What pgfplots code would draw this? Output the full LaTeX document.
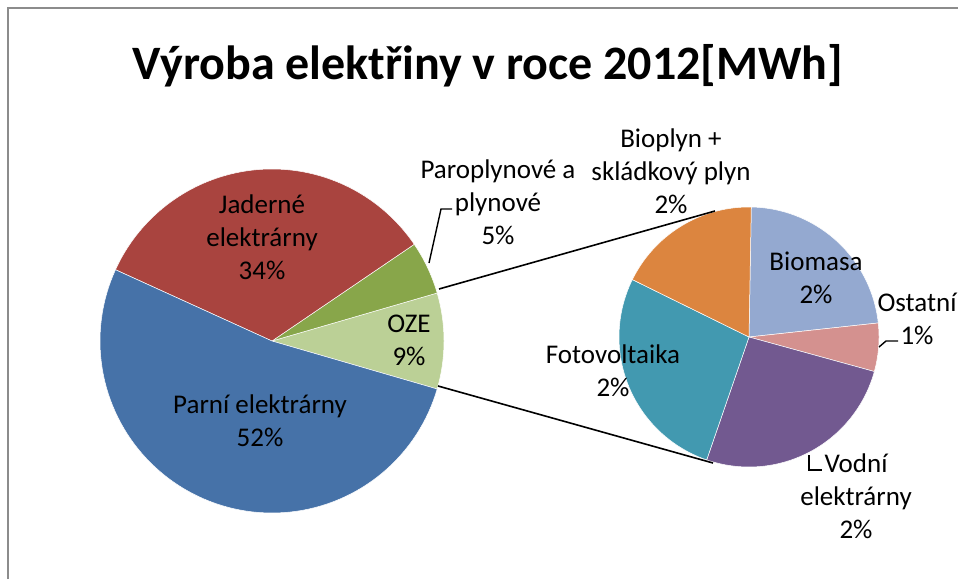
\documentclass[border=0pt]{standalone}
\usepackage{fontspec}
\setmainfont{Carlito}
\usepackage{pgfplots}
\pgfplotsset{compat=1.18}
\usepackage{pgfplotstable}

\definecolor{cParni}{HTML}{4672A8}
\definecolor{cJad}{HTML}{A9443F}
\definecolor{cPar}{HTML}{88A64A}
\definecolor{cOZE}{HTML}{BBD096}
\definecolor{cBioplyn}{HTML}{DC853F}
\definecolor{cBiomasa}{HTML}{94A9D0}
\definecolor{cOst}{HTML}{D4918F}
\definecolor{cVod}{HTML}{725990}
\definecolor{cFoto}{HTML}{4299B0}
\definecolor{frame}{HTML}{8C8C8C}

% shares in % of total production
\pgfplotstableread{
name share
Parni 52.3
Jaderne 33.7
Paroplyn 5
OZE 9
}\maintab
\pgfplotstableread{
name share
Biomasa 2.07
Ostatni 0.54
Vodni 2.34
Fotovoltaika 2.43
Bioplyn 1.62
}\ozetab

\newcommand\getv[3]{\pgfplotstablegetelem{#2}{share}\of#1\let#3\pgfplotsretval}

% slice: cx, cy, r, a1, a2, colour
\newcommand\slice[6]{%
  \addplot[draw=white, line width=0.25pt, fill=#6, domain=#4:#5, samples=90, variable=\t]
    ({#1+#3*cos(\t)},{#2+#3*sin(\t)}) -- (axis cs:#1,#2) -- cycle;
}

\begin{document}%
\begin{tikzpicture}
\getv\maintab{0}\vParni
\getv\maintab{1}\vJad
\getv\maintab{2}\vPar
\getv\maintab{3}\vOZE
\getv\ozetab{0}\vBiomasa
\getv\ozetab{1}\vOst
\getv\ozetab{2}\vVod
\getv\ozetab{3}\vFoto
\getv\ozetab{4}\vBioplyn
% main pie angles (OZE centred on the horizontal)
\pgfmathsetmacro\aA{-1.8*\vOZE}
\pgfmathsetmacro\aB{\aA+3.6*\vOZE}
\pgfmathsetmacro\aC{\aB+3.6*\vPar}
\pgfmathsetmacro\aD{\aC+3.6*\vJad}
\pgfmathsetmacro\aE{\aD+3.6*\vParni}
% secondary pie angles (clockwise from top)
\pgfmathsetmacro\k{360/\vOZE}
\pgfmathsetmacro\bA{89}
\pgfmathsetmacro\bB{\bA-\k*\vBiomasa}
\pgfmathsetmacro\bC{\bB-\k*\vOst}
\pgfmathsetmacro\bD{\bC-\k*\vVod}
\pgfmathsetmacro\bE{\bD-\k*\vFoto}
\pgfmathsetmacro\bF{\bE-\k*\vBioplyn}
\begin{axis}[scale only axis, width=479pt, height=289.5pt,
  xmin=0, xmax=958, ymin=0, ymax=579, hide axis, clip=false]
% frame
\draw[frame, line width=1pt] (axis cs:8,0) -- (axis cs:8,571) -- (axis cs:958,571);
% main pie
\slice{272}{238}{172}{\aA}{\aB}{cOZE}
\slice{272}{238}{172}{\aB}{\aC}{cPar}
\slice{272}{238}{172}{\aC}{\aD}{cJad}
\slice{272}{238}{172}{\aD}{\aE}{cParni}
% secondary pie
\slice{749}{242}{130}{\bB}{\bA}{cBiomasa}
\slice{749}{242}{130}{\bC}{\bB}{cOst}
\slice{749}{242}{130}{\bD}{\bC}{cVod}
\slice{749}{242}{130}{\bE}{\bD}{cFoto}
\slice{749}{242}{130}{\bF}{\bE}{cBioplyn}
% connector lines
\addplot[black, line width=0.8pt] coordinates {(439,290) (715,368)};
\addplot[black, line width=0.8pt] coordinates {(438,193) (713,116)};
% leader lines
\addplot[black, line width=0.7pt] coordinates {(429,316) (441,370) (452,370)};
\addplot[black, line width=0.7pt] coordinates {(879,232) (886,238) (898,238)};
\addplot[black, line width=0.7pt] coordinates {(809,124) (809,109) (822,109)};
% labels
\begin{scope}[every node/.style={align=center, font=\fontsize{13.5}{16.5}\selectfont}]
\node at (axis cs:262,342) {Jaderné\\elektrárny\\34\%};
\node at (axis cs:260,158) {Parní elektrárny\\52\%};
\node at (axis cs:498,377) {Paroplynové a\\plynové\\5\%};
\node at (axis cs:409,239) {OZE\\9\%};
\node at (axis cs:671,408) {Bioplyn +\\skládkový plyn\\2\%};
\node at (axis cs:816,301) {Biomasa\\2\%};
\node at (axis cs:917,260) {Ostatní\\1\%};
\node at (axis cs:613,208) {Fotovoltaika\\2\%};
\node at (axis cs:856,83) {Vodní\\elektrárny\\2\%};
\end{scope}
\node[anchor=base, font=\fontsize{24}{28}\selectfont\bfseries] at (axis cs:488,499) {Výroba elektřiny v roce 2012[MWh]};
\end{axis}
\pgfresetboundingbox
\path (0,0) rectangle (479pt,289.5pt);
\end{tikzpicture}%
\end{document}
